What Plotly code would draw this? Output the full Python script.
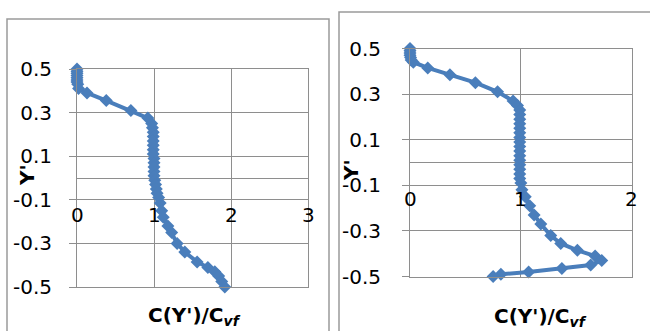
import plotly.graph_objects as go

# ---- data ----
left_x = [0, 0, 0, 0, 0, 0, 0, 0.01, 0.02, 0.13, 0.38, 0.70, 0.92, 0.97, 0.98, 0.99, 0.99,
          0.99, 0.99, 0.99, 0.99, 1.0, 1.0, 1.0, 1.0, 1.0, 1.01, 1.02, 1.03, 1.04, 1.06,
          1.08, 1.10, 1.12, 1.18, 1.23, 1.30, 1.40, 1.56, 1.70, 1.79, 1.84, 1.88, 1.92]
left_y = [0.50, 0.49, 0.48, 0.47, 0.46, 0.45, 0.44, 0.43, 0.41, 0.39, 0.355, 0.31, 0.275,
          0.25, 0.23, 0.21, 0.19, 0.17, 0.15, 0.13, 0.11, 0.09, 0.07, 0.05, 0.03, 0.01,
          -0.01, -0.03, -0.05, -0.07, -0.09, -0.115, -0.15, -0.18, -0.22, -0.25, -0.30,
          -0.34, -0.385, -0.41, -0.43, -0.45, -0.475, -0.50]

right_x = [0, 0, 0, 0, 0.005, 0.01, 0.03, 0.16, 0.36, 0.59, 0.79, 0.93, 0.97, 0.99, 0.99,
           0.99, 0.99, 0.99, 0.99, 0.99, 0.99, 0.99, 0.99, 0.99, 0.99, 0.99, 0.99, 0.99,
           0.99, 1.0, 1.01, 1.04, 1.08, 1.12, 1.18, 1.27, 1.36, 1.51, 1.67, 1.73, 1.63,
           1.37, 1.07, 0.82, 0.75]
right_y = [0.50, 0.49, 0.48, 0.47, 0.46, 0.45, 0.44, 0.415, 0.385, 0.35, 0.31, 0.27, 0.25,
           0.23, 0.21, 0.19, 0.17, 0.15, 0.13, 0.11, 0.09, 0.07, 0.05, 0.03, 0.01, -0.01,
           -0.03, -0.05, -0.07, -0.09, -0.12, -0.15, -0.19, -0.23, -0.27, -0.32, -0.355,
           -0.385, -0.41, -0.43, -0.45, -0.465, -0.48, -0.49, -0.50]

y_ticks = [-0.5, -0.3, -0.1, 0.1, 0.3, 0.5]
y_ticktext = ["-0.5", "-0.3", "-0.1", "0.1", "0.3", "0.5"]
x_ticks_left = [0, 1, 2, 3]
x_ticks_right = [0, 1, 2]
x_title = "<b>C(Y')/C<sub><i>vf</i></sub></b>"
y_title = "<b>Y'</b>"

W, H = 650, 331
BLUE = "#4a7ebb"
GRID = "#8e8e8e"
FONT = "DejaVu Sans"
FS = 20

fig = go.Figure()
for xs, ys, xa, ya in [(left_x, left_y, "x", "y"), (right_x, right_y, "x2", "y2")]:
    fig.add_trace(go.Scatter(
        x=xs, y=ys, xaxis=xa, yaxis=ya, mode="lines+markers",
        line=dict(color=BLUE, width=4),
        marker=dict(symbol="diamond", size=10, color=BLUE),
        showlegend=False, cliponaxis=False))

def xaxis(domain, rng, ticks, anchor):
    return dict(domain=domain, range=rng, tickvals=ticks, showticklabels=False,
                showgrid=True, gridcolor=GRID, gridwidth=1, zeroline=False,
                showline=True, linecolor=GRID, linewidth=1, mirror=True, ticks="",
                anchor=anchor, automargin=False)

def yaxis(domain, standoff, anchor):
    return dict(domain=domain, range=[-0.5, 0.5], tickvals=y_ticks, ticktext=y_ticktext,
                showgrid=True, gridcolor=GRID, gridwidth=1,
                zeroline=True, zerolinecolor=GRID, zerolinewidth=1,
                showline=True, linecolor=GRID, linewidth=1, mirror=True,
                ticks="outside", ticklen=7, tickcolor=GRID, tickwidth=1,
                ticklabelstandoff=standoff, anchor=anchor, automargin=False,
                tickfont=dict(family=FONT, size=FS, color="#000000"))

fig.update_layout(
    width=W, height=H, autosize=False,
    margin=dict(l=0, r=0, t=0, b=0, pad=0, autoexpand=False),
    paper_bgcolor="white", plot_bgcolor="white", showlegend=False,
    xaxis=xaxis([77 / W, 308 / W], [0, 3], x_ticks_left, "y"),
    yaxis=yaxis([1 - 287 / H, 1 - 69 / H], 13, "x"),
    xaxis2=xaxis([410 / W, 631.7 / W], [0, 2], x_ticks_right, "y2"),
    yaxis2=yaxis([1 - 276.5 / H, 1 - 48.5 / H], 17, "x2"),
)

annotations = []
for t in x_ticks_left:
    annotations.append(dict(x=t, y=0, xref="x", yref="y", text=str(t), showarrow=False,
                            yshift=-37, font=dict(family=FONT, size=FS, color="#000")))
for t in x_ticks_right:
    annotations.append(dict(x=t, y=0, xref="x2", yref="y2", text=str(t), showarrow=False,
                            yshift=-37, font=dict(family=FONT, size=FS, color="#000")))
# axis titles
annotations.append(dict(x=27 / W, y=1 - 175 / H, xref="paper", yref="paper", text=y_title,
                        textangle=-90, showarrow=False, xanchor="center", yanchor="middle",
                        font=dict(family=FONT, size=FS, color="#000")))
annotations.append(dict(x=351 / W, y=1 - 170 / H, xref="paper", yref="paper", text=y_title,
                        textangle=-90, showarrow=False, xanchor="center", yanchor="middle",
                        font=dict(family=FONT, size=FS, color="#000")))
annotations.append(dict(x=194 / W, y=0, xref="paper", yref="paper", text=x_title,
                        showarrow=False, xanchor="center", yanchor="bottom",
                        font=dict(family=FONT, size=FS, color="#000")))
annotations.append(dict(x=540 / W, y=1 - 317 / H, xref="paper", yref="paper", text=x_title,
                        showarrow=False, xanchor="center", yanchor="middle",
                        font=dict(family=FONT, size=FS, color="#000")))
fig.update_layout(annotations=annotations)

# panel borders
fig.add_shape(type="rect", xref="paper", yref="paper", x0=7 / W, x1=329 / W,
              y0=-0.05, y1=1 - 19 / H, line=dict(color="#9a9a9a", width=1.5))
fig.add_shape(type="rect", xref="paper", yref="paper", x0=339 / W, x1=1.05,
              y0=-0.05, y1=1 - 12 / H, line=dict(color="#9a9a9a", width=1.5))

fig.write_html("out.html")
